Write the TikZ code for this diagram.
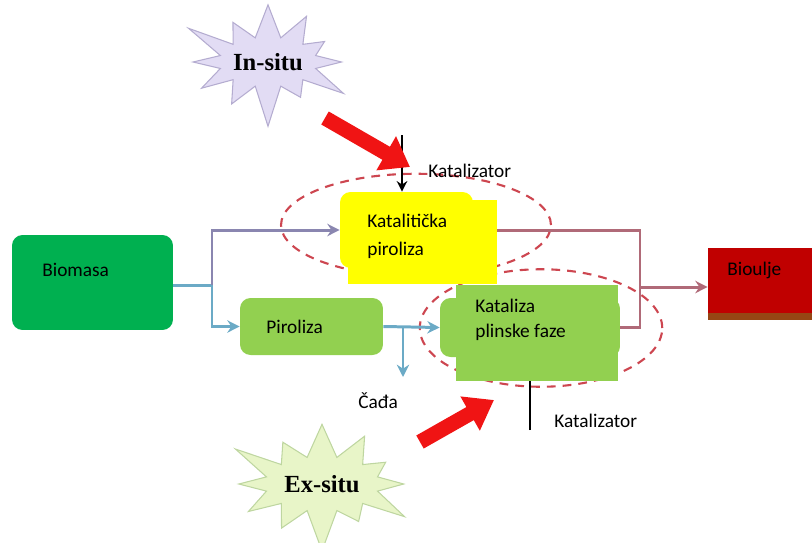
\documentclass[tikz,border=0pt]{standalone}
\usepackage{fontspec}
\setmainfont{Carlito}
\newfontfamily\burstfont{Liberation Serif}
\usepackage{xcolor}
\definecolor{biogreen}{RGB}{0,176,80}
\definecolor{litegreen}{RGB}{146,208,80}
\definecolor{kyellow}{RGB}{255,255,0}
\definecolor{oilred}{RGB}{192,0,0}
\definecolor{oilshade}{RGB}{150,70,20}
\definecolor{purpline}{RGB}{138,134,176}
\definecolor{blueline}{RGB}{107,170,198}
\definecolor{outline}{RGB}{176,106,120}
\definecolor{zonered}{RGB}{205,70,80}
\definecolor{lavender}{RGB}{226,220,244}
\definecolor{lavedge}{RGB}{180,172,208}
\definecolor{palegreen}{RGB}{232,245,200}
\definecolor{paleedge}{RGB}{190,214,160}
\definecolor{fatred}{RGB}{240,20,20}
\usepackage{tikz}
\usetikzlibrary{shapes.geometric,shapes.symbols,arrows.meta,positioning,shadows}

\begin{document}
\begin{tikzpicture}[x=0.02cm,y=-0.02cm,
  box/.style={rounded corners=6pt,inner sep=0pt,font=\fontsize{11}{13}\selectfont,align=left},
  patch/.style={inner sep=0pt},
  zone/.style={draw=zonered,dashed,line width=1.2pt,dash pattern=on 5pt off 4pt,ellipse,inner sep=0pt},
  burst/.style={starburst,starburst points=12,starburst point height=0.9cm,inner sep=0pt,font=\burstfont\fontsize{14}{16}\selectfont\bfseries,line width=0.6pt},
  lbl/.style={font=\fontsize{11}{13}\selectfont,inner sep=0pt},
  flow/.style={line width=1.7pt,-{Stealth[length=7pt,width=7pt]}},
  fat/.style={fatred,line width=0.3cm,-{Triangle[length=0.55cm,width=0.75cm]}}
]
  \useasboundingbox (0,0) rectangle (812,542);

  % Zones
  \node[zone,minimum width=5.4cm,minimum height=2.05cm] (zone1) at (416,225) {};
  \node[zone,minimum width=4.85cm,minimum height=2.35cm] (zone2) at (541,328) {};

  % Boxes
  \node[box,fill=biogreen,minimum width=3.22cm,minimum height=1.9cm] (bio) at (92.5,282.5) {};
  \node[lbl,anchor=west] (biotxt) at (42,270) {Biomasa};
  \node[box,fill=kyellow,minimum width=2.66cm,minimum height=1.52cm] (katpirbg) at (406.5,230) {};
  \node[box,fill=litegreen,minimum width=2.86cm,minimum height=1.14cm] (piro) at (311.5,326.5) {};
  \node[lbl,anchor=west] (pirotxt) at (266,327) {Piroliza};
  \node[box,fill=litegreen,minimum width=3.6cm,minimum height=1.18cm] (katbg) at (530,327.5) {};
  \node[box,rounded corners=0pt,fill=oilred,minimum width=2.4cm,minimum height=1.3cm,
        drop shadow={fill=oilshade,opacity=1,shadow xshift=0pt,shadow yshift=-4pt}] (oil) at (768,280) {};
  \node[lbl,anchor=west] (oiltxt) at (727,270) {Bioulje};

  % Connectors
  \coordinate (split1) at (212,285);
  \coordinate (split2) at (403,327);
  \coordinate (joint) at (640,287);
  \draw[blueline,line width=1.7pt] (bio.east |- split1) -- (split1);
  \draw[purpline,flow] (split1) |- (katpirbg.west);
  \draw[blueline,flow] (split1) |- (piro.west);
  \draw[blueline,flow] (piro.east) -- (katbg.west);
  \coordinate (cadain) at (403,377);
  \draw[blueline,flow] (split2) -- (cadain);
  \draw[outline,line width=1.7pt] (katpirbg.east) -| (joint);
  \draw[outline,line width=1.7pt] (katbg.east) -| (joint);
  \draw[outline,flow] (joint) -- (joint -| oil.west);

  % Overlay patches
  \node[patch,fill=kyellow,minimum width=2.98cm,minimum height=1.68cm] (katpir) at (422.5,242) {};
  \node[lbl,anchor=north west,align=left] (katpirtxt) at (367,214) {Katalitička\\[3pt]piroliza};
  \node[patch,fill=litegreen,minimum width=3.24cm,minimum height=1.92cm] (katov) at (537,333) {};
  \node[lbl,anchor=north west,align=left] (kattxt) at (475,299) {Kataliza\\[1pt]plinske faze};

  % Catalyst feeds
  \coordinate (kat1src) at (402,135);
  \draw[black,line width=1.2pt,-{Stealth[length=6pt,width=6pt]}] (kat1src) -- (kat1src |- katpirbg.north);
  \node[lbl,anchor=west] (kat1) at (428,171) {Katalizator};
  \coordinate (kat2src) at (530,430);
  \draw[black,line width=1.2pt] (kat2src) -- (kat2src |- katov.south);
  \node[lbl,anchor=west] (kat2) at (554,421) {Katalizator};
  \node[lbl,anchor=west] (cada) at (358,401) {Čađa};

  % Bursts
  \node[burst,fill=lavender,draw=lavedge,minimum width=3.6cm,minimum height=2.8cm] (insitu) at (268,62) {In-situ};
  \node[burst,fill=palegreen,draw=paleedge,minimum width=4.1cm,minimum height=2.9cm] (exsitu) at (322,484) {Ex-situ};
  \coordinate (intail) at (325,118);
  \coordinate (intip) at (410,167);
  \draw[fat] (intail) -- (intip);
  \coordinate (extail) at (420,442);
  \coordinate (extip) at (494,400);
  \draw[fat] (extail) -- (extip);
\end{tikzpicture}
\end{document}
